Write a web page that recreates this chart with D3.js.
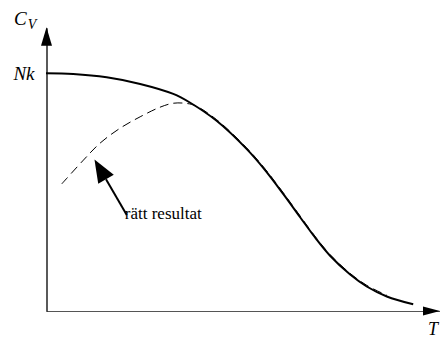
<!DOCTYPE html>
<html>
<head>
<meta charset="utf-8">
<script src="https://cdn.jsdelivr.net/npm/d3@7"></script>
<style>
  html, body { margin: 0; padding: 0; background: #fff; }
  svg { display: block; }
  text { font-family: "Liberation Serif", "Times New Roman", serif; fill: #000; }
</style>
</head>
<body>
<svg id="chart" width="440" height="340"></svg>
<script>
// ---- data (T in arbitrary units, Cv in units of Nk) ----
const exactT  = [0, 6.9, 15.4, 23.9, 32.3, 36.5, 43.3, 50.9, 55.6, 60.2, 64.5, 68.7, 72.1, 77.2, 81.4, 86.5, 93.2];
const exactCv = [0.999, 0.996, 0.982, 0.954, 0.912, 0.876, 0.799, 0.681, 0.592, 0.492, 0.394, 0.30, 0.232, 0.153, 0.103, 0.061, 0.028];

const approxT  = [4.0, 9.5, 13.7, 18.8, 23.9, 28.9, 32.3, 35.7, 38.0, 43.3, 50.9, 55.6, 60.2, 64.5, 68.7, 72.1, 77.2, 81.4, 86.5];
const approxCv = [0.534, 0.634, 0.705, 0.768, 0.816, 0.856, 0.873, 0.872, 0.862, 0.804, 0.686, 0.597, 0.497, 0.399, 0.305, 0.237, 0.158, 0.108, 0.066];

const yTickValues = [1];
const yTickLabels = ["Nk"];
const annotationText = "rätt resultat";
const annotationTip  = [12.3, 0.637];
const annotationTail = [20.5, 0.403];
const annotationLabel = [20.0, 0.385];

// ---- layout ----
const svg = d3.select("#chart");
const x = d3.scaleLinear().domain([0, 100]).range([46, 440]);
const y = d3.scaleLinear().domain([0, 1]).range([311, 73]);
const yTop = 1.19;

// x axis
const xAxis = svg.append("g")
  .attr("transform", `translate(0,${y(0)})`)
  .call(d3.axisBottom(x).tickValues([]).tickSizeOuter(0));
xAxis.select(".domain").attr("stroke", "#555").attr("stroke-width", 1);

// y axis
const yAxis = svg.append("g")
  .attr("transform", `translate(${x(0) + 0.5},0)`)
  .call(d3.axisLeft(d3.scaleLinear().domain([0, yTop]).range([y(0), y(yTop)]))
    .tickValues(yTickValues)
    .tickFormat((d, i) => yTickLabels[i])
    .tickSize(0).tickSizeOuter(0).tickPadding(12));
yAxis.select(".domain").attr("stroke", "#000").attr("stroke-width", 1.3);
yAxis.selectAll(".tick text")
  .attr("font-family", "Liberation Serif")
  .attr("font-style", "italic")
  .attr("font-size", 19)
  .attr("dy", "0.34em");

// axis arrowheads
svg.append("path")
  .attr("d", d3.line()([[x(0) + 0.5, y(yTop) - 0.5], [x(0) - 5, y(yTop) + 18], [x(0) + 6, y(yTop) + 18]]) + "Z")
  .attr("fill", "#000");
svg.append("path")
  .attr("d", d3.line()([[x(100), y(0)], [x(100) - 17, y(0) - 4.5], [x(100) - 17, y(0) + 4.5]]) + "Z")
  .attr("fill", "#000");

// axis titles
const cv = svg.append("text")
  .attr("x", x(0) - 32).attr("y", y(yTop) - 3)
  .attr("font-family", "Liberation Serif")
  .attr("font-style", "italic").attr("font-size", 19);
cv.append("tspan").text("C");
cv.append("tspan").attr("font-size", 14).attr("dy", 4).attr("dx", 1).text("V");

svg.append("text")
  .attr("x", x(100) - 12).attr("y", y(0) + 24)
  .attr("font-family", "Liberation Serif")
  .attr("font-style", "italic").attr("font-size", 18)
  .text("T");

// curves
const exactData = exactT.map((t, i) => [t, exactCv[i]]);
const approxData = approxT.map((t, i) => [t, approxCv[i]]);
const line = d3.line().x(d => x(d[0])).y(d => y(d[1])).curve(d3.curveCatmullRom.alpha(0.5));

svg.append("path")
  .datum(approxData)
  .attr("d", line)
  .attr("fill", "none")
  .attr("stroke", "#000")
  .attr("stroke-width", 1)
  .attr("stroke-dasharray", "9,5");

svg.append("path")
  .datum(exactData)
  .attr("d", line)
  .attr("fill", "none")
  .attr("stroke", "#000")
  .attr("stroke-width", 2);

// annotation arrow
const tip = [x(annotationTip[0]), y(annotationTip[1])];
const tail = [x(annotationTail[0]), y(annotationTail[1])];
const ang = Math.atan2(tail[1] - tip[1], tail[0] - tip[0]);
const headLen = 23, headHalf = 9;
const base = [tip[0] + headLen * Math.cos(ang), tip[1] + headLen * Math.sin(ang)];
const perp = [-Math.sin(ang), Math.cos(ang)];
svg.append("path")
  .attr("d", d3.line()([base, tail]))
  .attr("stroke", "#000").attr("stroke-width", 2).attr("fill", "none");
svg.append("path")
  .attr("d", d3.line()([tip,
    [base[0] + perp[0] * headHalf, base[1] + perp[1] * headHalf],
    [base[0] - perp[0] * headHalf, base[1] - perp[1] * headHalf]]) + "Z")
  .attr("fill", "#000");

svg.append("text")
  .attr("x", x(annotationLabel[0])).attr("y", y(annotationLabel[1]))
  .attr("font-family", "Liberation Serif")
  .attr("font-size", 17)
  .text(annotationText);
</script>
</body>
</html>
